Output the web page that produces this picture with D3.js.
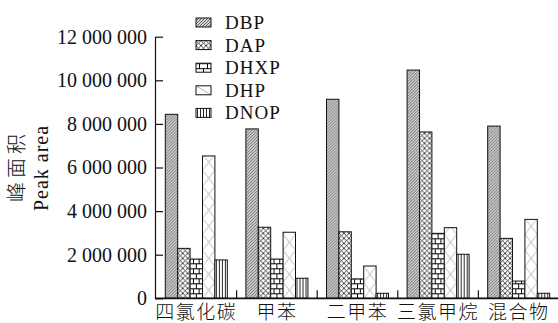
<!DOCTYPE html>
<html><head><meta charset="utf-8">
<script src="https://cdn.jsdelivr.net/npm/d3@7/dist/d3.min.js"></script>
<style>body{margin:0;background:#fff;overflow:hidden}
.serif{font-family:"Liberation Serif","DejaVu Serif","Times New Roman",serif}
.cjk{font-family:"Noto Sans CJK SC","Noto Sans CJK JP",sans-serif}</style>
</head><body>
<svg id="c" width="558" height="323"></svg>
<script>
const categories = ["四氯化碳", "甲苯", "二甲苯", "三氯甲烷", "混合物"];
const seriesNames = ["DBP", "DAP", "DHXP", "DHP", "DNOP"];
const DBP  = [8440000, 7770000, 9130000, 10470000, 7900000];
const DAP  = [2290000, 3260000, 3050000, 7630000, 2750000];
const DHXP = [1800000, 1800000, 890000, 2980000, 790000];
const DHP  = [6530000, 3030000, 1480000, 3240000, 3620000];
const DNOP = [1760000, 920000, 230000, 2020000, 230000];
const yTicks = [0, 2000000, 4000000, 6000000, 8000000, 10000000, 12000000];
const yTitleCN = "峰面积";
const yTitleEN = "Peak area";

const seriesValues = {DBP, DAP, DHXP, DHP, DNOP};

const svg = d3.select("#c");
const defs = svg.append("defs");

const x0 = d3.scaleBand().domain(categories).range([156, 559]).paddingInner(0).paddingOuter(0);
const x1 = d3.scaleBand().domain(seriesNames).range([0, x0.bandwidth()]).paddingInner(0).paddingOuter(0.75);
const y = d3.scaleLinear().domain([0, 12000000]).range([298.3, 36.7]);

function makePattern(kind, id, px, py, w, legend) {
  let tw, th;
  if (kind === "DBP") { tw = 3; th = 3; }
  else if (kind === "DAP") { tw = 5; th = 5; }
  else if (kind === "DHXP") { tw = w; th = 10; }
  else if (kind === "DHP") { tw = w; th = legend ? 9 : 16; }
  else { tw = 3; th = 10; }
  const p = defs.append("pattern").attr("id", id).attr("patternUnits", "userSpaceOnUse")
    .attr("x", px).attr("y", py).attr("width", tw).attr("height", th);
  if (kind === "DBP") {
    p.append("rect").attr("width", tw).attr("height", th).attr("fill", "#d6d6d6");
    p.append("path").attr("d", "M0,3L3,0M-1,1L1,-1M2,4L4,2").attr("stroke", "#2a2a2a").attr("stroke-width", 0.7);
  } else if (kind === "DAP") {
    p.append("rect").attr("width", tw).attr("height", th).attr("fill", "#fff");
    p.append("path").attr("d", `M0,0L${tw},${th}M${tw},0L0,${th}`).attr("stroke", "#222").attr("stroke-width", 0.85);
  } else if (kind === "DHXP") {
    p.append("rect").attr("width", tw).attr("height", th).attr("fill", "#fff");
    const b = w / 2;
    p.append("path").attr("d", `M0,0.75H${tw}M0,5.75H${tw}M${b/2},0.75V5.75M${b*1.5},0.75V5.75M${b},5.75V10.75`)
      .attr("stroke", "#000").attr("stroke-width", 1.4).attr("shape-rendering", "crispEdges");
  } else if (kind === "DHP") {
    p.append("rect").attr("width", tw).attr("height", th).attr("fill", "#fff");
    if (legend) p.append("path").attr("d", `M0,0L${tw},${th}`).attr("stroke", "#999").attr("stroke-width", 0.8);
    else p.append("path").attr("d", `M0,0L${tw},${th}M${tw},0L0,${th}`).attr("stroke", "#a8a8a8").attr("stroke-width", 0.8);
  } else {
    p.append("rect").attr("width", tw).attr("height", th).attr("fill", "#fff");
    p.append("path").attr("d", `M1.5,0V${th}`).attr("stroke", "#111").attr("stroke-width", 0.9);
  }
}

const bars = [];
categories.forEach((c, ci) => {
  seriesNames.forEach((s, si) => {
    bars.push({cat: c, s, v: seriesValues[s][ci], ci, si});
  });
});
bars.forEach((d, i) => {
  d.x = x0(d.cat) + x1(d.s);
  d.id = `pat-${i}`;
  makePattern(d.s, d.id, d.x, y(0), x1.bandwidth(), false);
});
svg.append("g").selectAll("rect").data(bars).join("rect")
  .attr("x", d => d.x)
  .attr("y", d => y(d.v))
  .attr("width", x1.bandwidth())
  .attr("height", d => y(0) - y(d.v))
  .attr("fill", d => `url(#${d.id})`)
  .attr("stroke", "#111").attr("stroke-width", 1);

// y axis
const locale = d3.formatLocale({decimal: ".", thousands: " ", grouping: [3], currency: ["", ""]});
const fmt = locale.format(",d");
const yAxis = d3.axisLeft(y).tickValues(yTicks).tickFormat(fmt).tickSizeInner(-8).tickSizeOuter(0).tickPadding(8);
const gy = svg.append("g").attr("transform", "translate(155,0)").call(yAxis);
gy.attr("font-family", null).attr("font-size", null);
gy.select(".domain").attr("stroke", "#111").attr("stroke-width", 1.2);
gy.selectAll(".tick line").attr("stroke", "#111").attr("stroke-width", 1.2);
gy.selectAll(".tick text").attr("class", "serif").style("font-size", "20px").attr("fill", "#111");

// x axis
const xAxis = d3.axisBottom(x0).tickSize(0).tickPadding(0);
const gx = svg.append("g").attr("transform", `translate(0,${y(0)})`).call(xAxis);
gx.attr("font-family", null).attr("font-size", null);
gx.select(".domain").attr("stroke", "#111").attr("stroke-width", 1.8).attr("d", `M155,0H559`);
gx.selectAll(".tick text").attr("class", "cjk").style("font-size", "19px").style("font-weight", 300)
  .attr("fill", "#111").attr("y", 20.5).attr("dy", 0).attr("letter-spacing", 1.5);
svg.append("g").selectAll("line").data(categories).join("line")
  .attr("x1", d => x0(d) + x0.bandwidth()).attr("x2", d => x0(d) + x0.bandwidth())
  .attr("y1", y(0)).attr("y2", y(0) - 8)
  .attr("stroke", "#111").attr("stroke-width", 1.2);

// y titles
svg.append("text").attr("class", "cjk").attr("transform", "translate(24,166) rotate(-90)")
  .attr("text-anchor", "middle").style("font-weight", 300).style("font-size", "20px")
  .attr("letter-spacing", 4).attr("fill", "#111").text(yTitleCN);
svg.append("text").attr("class", "serif").attr("transform", "translate(48,168) rotate(-90)")
  .attr("text-anchor", "middle").style("font-size", "20px")
  .attr("letter-spacing", 1).attr("fill", "#111").text(yTitleEN);

// legend
const lg = svg.append("g");
seriesNames.forEach((s, i) => {
  const cy = 22.5 + i * 22.6;
  const id = `leg-${i}`;
  makePattern(s, id, 196, cy - 4.5, 15, true);
  lg.append("rect").attr("x", 196).attr("y", cy - 4.5).attr("width", 15).attr("height", 9)
    .attr("fill", `url(#${id})`).attr("stroke", "#111").attr("stroke-width", 1);
  lg.append("text").attr("class", "serif").attr("x", 225).attr("y", cy + 6.5).style("font-size", "19px")
    .attr("letter-spacing", 1).attr("fill", "#111").text(s);
});
</script>
</body></html>
